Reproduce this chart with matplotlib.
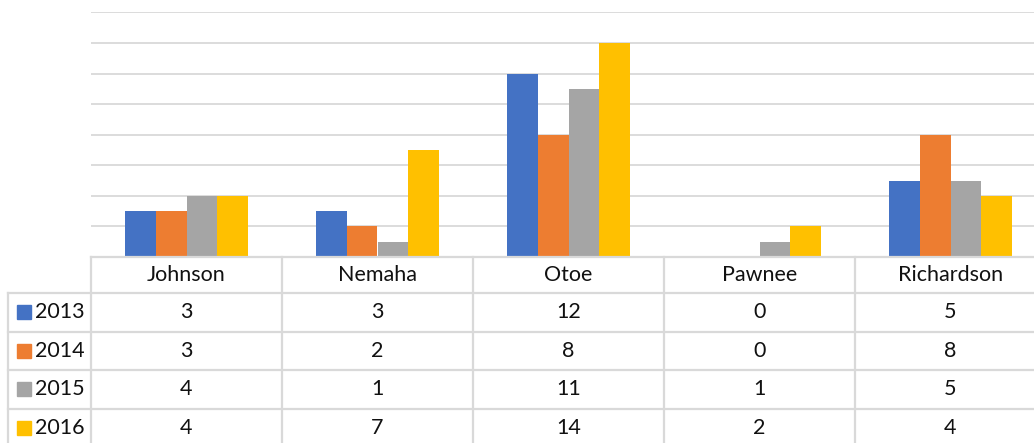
import numpy as np
import matplotlib.pyplot as plt

counties = ['Johnson', 'Nemaha', 'Otoe', 'Pawnee', 'Richardson']
years = ['2013', '2014', '2015', '2016']
v2013 = [3, 3, 12, 0, 5]
v2014 = [3, 2, 8, 0, 8]
v2015 = [4, 1, 11, 1, 5]
v2016 = [4, 7, 14, 2, 4]
series = [v2013, v2014, v2015, v2016]
colors = ['#4472C4', '#ED7D31', '#A5A5A5', '#FFC000']

plt.rcParams['font.family'] = ['Lato', 'DejaVu Sans']

W, H = 1034, 443
fig = plt.figure(figsize=(W / 100, H / 100), dpi=100)

# plot area in pixel terms
left, right = 91.0, 1046.0
top, base = 12.4, 257.0
colw = (right - left) / 5

ax = fig.add_axes([left / W, 1 - base / H, (right - left) / W, (base - top) / H])
ax.set_xlim(0, 5)
ax.set_ylim(0, 16)
ax.set_yticks(np.arange(2, 17, 2))
ax.yaxis.grid(True, color='#d9d9d9', linewidth=1.3)
ax.set_axisbelow(True)
ax.tick_params(left=False, bottom=False, labelleft=False, labelbottom=False)
for s in ax.spines.values():
    s.set_visible(False)

bw = 0.1623
x = np.arange(5) + 0.5
for i, vals in enumerate(series):
    ax.bar(x + (i - 1.5) * bw, vals, width=bw, color=colors[i], zorder=2)

# data table
tab = fig.add_axes([0, 0, 1, 1])
tab.set_xlim(0, W)
tab.set_ylim(H, 0)
tab.axis('off')
lc = '#d9d9d9'
lw = 1.6
row_lines = [293, 331.5, 370, 408.5, 447]
tab.plot([left, W], [base, base], color=lc, lw=lw)
for y in row_lines:
    tab.plot([8, W], [y, y], color=lc, lw=lw)
tab.plot([8, 8], [row_lines[0], H], color=lc, lw=lw)
for k in range(6):
    xx = left + k * colw
    tab.plot([xx, xx], [base, H], color=lc, lw=lw)

fs = 15.5
tc = '#111111'
for k, name in enumerate(counties):
    tab.text(left + (k + 0.5) * colw, (base + row_lines[0]) / 2, name,
             ha='center', va='center', fontsize=fs, color=tc)
for i, vals in enumerate(series):
    yc = (row_lines[i] + row_lines[i + 1]) / 2
    tab.add_patch(plt.Rectangle((17, yc - 7), 14, 14, color=colors[i]))
    tab.text(35, yc, years[i], ha='left', va='center', fontsize=fs, color=tc)
    for k, v in enumerate(vals):
        tab.text(left + (k + 0.5) * colw, yc, str(v),
                 ha='center', va='center', fontsize=fs, color=tc)

fig.savefig('out.png', dpi=100)
